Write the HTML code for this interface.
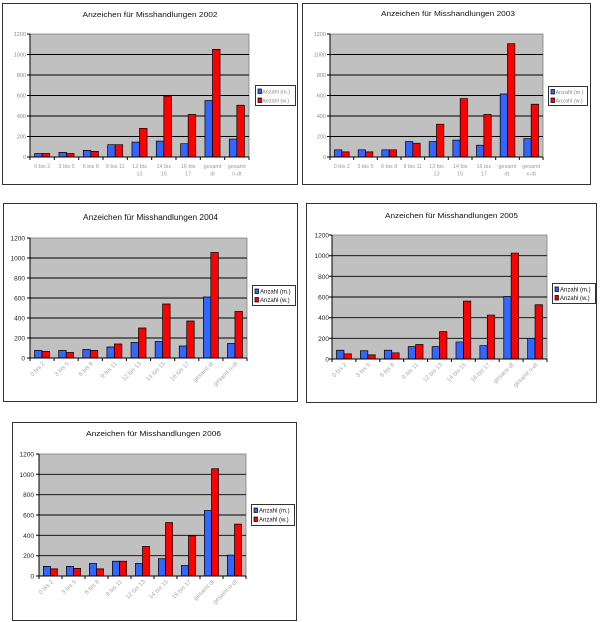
<!DOCTYPE html>
<html><head><meta charset="utf-8"><style>
html,body{margin:0;padding:0;background:#fff;}
svg{display:block;font-family:"Liberation Sans",Arial,sans-serif;}
.g{fill:#c0c0c0;stroke:#808080;stroke-width:0.8;}
.gl{stroke:#000;stroke-width:0.9;vector-effect:non-scaling-stroke;}
.b{fill:#3366ff;stroke:#000;stroke-width:0.7;vector-effect:non-scaling-stroke;}
.r{fill:#ff0000;stroke:#000;stroke-width:0.7;vector-effect:non-scaling-stroke;}
.ax{stroke:#000;stroke-width:1;fill:none;}
.fr{fill:#fff;stroke:#333;stroke-width:1;}
.yl1{font-size:5.5px;fill:#8a8a8a;text-anchor:end;}
.xl1{font-size:5.5px;fill:#9a9a9a;text-anchor:middle;}
.yl2{font-size:6.5px;fill:#222;text-anchor:end;}
.xl2{font-size:6px;fill:#a8a8a8;text-anchor:end;}
.lg{fill:#fff;stroke:#000;stroke-width:0.8;}
.lt1{font-size:5.5px;fill:#888;}
.lt2{font-size:6px;fill:#111;}
.t{font-size:7.5px;fill:#111;text-anchor:middle;}
</style></head><body>
<svg width="600" height="622" viewBox="0 0 600 622" xmlns="http://www.w3.org/2000/svg">

<!-- ===== Chart 1 : 2002 ===== -->
<rect class="fr" x="2.5" y="3.5" width="295" height="181"/>
<text class="t" x="150" y="17" textLength="135" lengthAdjust="spacingAndGlyphs">Anzeichen für Misshandlungen 2002</text>
<rect class="g" x="30" y="34" width="219" height="123"/>
<g transform="translate(30,157) scale(24.333,-0.1025)">
<line class="gl" x1="0" x2="9" y1="200" y2="200"/><line class="gl" x1="0" x2="9" y1="400" y2="400"/><line class="gl" x1="0" x2="9" y1="600" y2="600"/><line class="gl" x1="0" x2="9" y1="800" y2="800"/><line class="gl" x1="0" x2="9" y1="1000" y2="1000"/>
<rect class="b" x="0.19" y="0" width="0.31" height="35"/><rect class="r" x="0.5" y="0" width="0.31" height="35"/>
<rect class="b" x="1.19" y="0" width="0.31" height="45"/><rect class="r" x="1.5" y="0" width="0.31" height="35"/>
<rect class="b" x="2.19" y="0" width="0.31" height="65"/><rect class="r" x="2.5" y="0" width="0.31" height="55"/>
<rect class="b" x="3.19" y="0" width="0.31" height="120"/><rect class="r" x="3.5" y="0" width="0.31" height="120"/>
<rect class="b" x="4.19" y="0" width="0.31" height="145"/><rect class="r" x="4.5" y="0" width="0.31" height="280"/>
<rect class="b" x="5.19" y="0" width="0.31" height="155"/><rect class="r" x="5.5" y="0" width="0.31" height="595"/>
<rect class="b" x="6.19" y="0" width="0.31" height="130"/><rect class="r" x="6.5" y="0" width="0.31" height="415"/>
<rect class="b" x="7.19" y="0" width="0.31" height="550"/><rect class="r" x="7.5" y="0" width="0.31" height="1050"/>
<rect class="b" x="8.19" y="0" width="0.31" height="175"/><rect class="r" x="8.5" y="0" width="0.31" height="505"/>
</g>
<path class="ax" d="M30,34V157H249M27,34H30M27,54.5H30M27,75H30M27,95.5H30M27,116H30M27,136.5H30M27,157H30M30,157v3M54.3,157v3M78.7,157v3M103,157v3M127.3,157v3M151.7,157v3M176,157v3M200.3,157v3M224.7,157v3M249,157v3"/>
<text class="yl1" x="26" y="36">1200</text><text class="yl1" x="26" y="56.5">1000</text><text class="yl1" x="26" y="77">800</text><text class="yl1" x="26" y="97.5">600</text><text class="yl1" x="26" y="118">400</text><text class="yl1" x="26" y="138.5">200</text><text class="yl1" x="26" y="159">0</text>
<text class="xl1" x="42.2" y="168">0 bis 2</text><text class="xl1" x="66.5" y="168">3 bis 5</text><text class="xl1" x="90.8" y="168">6 bis 8</text><text class="xl1" x="115.2" y="168">9 bis 11</text>
<text class="xl1" x="139.5" y="168">12 bis</text><text class="xl1" x="139.5" y="175.5">13</text>
<text class="xl1" x="163.8" y="168">14 bis</text><text class="xl1" x="163.8" y="175.5">15</text>
<text class="xl1" x="188.2" y="168">16 bis</text><text class="xl1" x="188.2" y="175.5">17</text>
<text class="xl1" x="212.5" y="168">gesamt</text><text class="xl1" x="212.5" y="175.5">dt</text>
<text class="xl1" x="236.8" y="168">gesamt</text><text class="xl1" x="236.8" y="175.5">n-dt</text>
<rect class="lg" x="255.5" y="85.5" width="40" height="20"/>
<rect class="b" x="258" y="89" width="3.5" height="4.5"/><text class="lt1" x="262" y="93.5">Anzahl (m.)</text>
<rect class="r" x="258" y="98" width="3.5" height="4.5"/><text class="lt1" x="262" y="102.5">Anzahl (w.)</text>

<!-- ===== Chart 2 : 2003 ===== -->
<rect class="fr" x="302.5" y="3.5" width="288" height="181"/>
<text class="t" x="448" y="16" textLength="134" lengthAdjust="spacingAndGlyphs">Anzeichen für Misshandlungen 2003</text>
<rect class="g" x="330" y="34" width="213" height="123"/>
<g transform="translate(330,157) scale(23.667,-0.1025)">
<line class="gl" x1="0" x2="9" y1="200" y2="200"/><line class="gl" x1="0" x2="9" y1="400" y2="400"/><line class="gl" x1="0" x2="9" y1="600" y2="600"/><line class="gl" x1="0" x2="9" y1="800" y2="800"/><line class="gl" x1="0" x2="9" y1="1000" y2="1000"/>
<rect class="b" x="0.19" y="0" width="0.31" height="70"/><rect class="r" x="0.5" y="0" width="0.31" height="50"/>
<rect class="b" x="1.19" y="0" width="0.31" height="70"/><rect class="r" x="1.5" y="0" width="0.31" height="50"/>
<rect class="b" x="2.19" y="0" width="0.31" height="70"/><rect class="r" x="2.5" y="0" width="0.31" height="70"/>
<rect class="b" x="3.19" y="0" width="0.31" height="150"/><rect class="r" x="3.5" y="0" width="0.31" height="135"/>
<rect class="b" x="4.19" y="0" width="0.31" height="150"/><rect class="r" x="4.5" y="0" width="0.31" height="320"/>
<rect class="b" x="5.19" y="0" width="0.31" height="165"/><rect class="r" x="5.5" y="0" width="0.31" height="570"/>
<rect class="b" x="6.19" y="0" width="0.31" height="115"/><rect class="r" x="6.5" y="0" width="0.31" height="415"/>
<rect class="b" x="7.19" y="0" width="0.31" height="615"/><rect class="r" x="7.5" y="0" width="0.31" height="1105"/>
<rect class="b" x="8.19" y="0" width="0.31" height="180"/><rect class="r" x="8.5" y="0" width="0.31" height="515"/>
</g>
<path class="ax" d="M330,34V157H543M327,34H330M327,54.5H330M327,75H330M327,95.5H330M327,116H330M327,136.5H330M327,157H330M330,157v3M353.7,157v3M377.3,157v3M401,157v3M424.7,157v3M448.3,157v3M472,157v3M495.7,157v3M519.3,157v3M543,157v3"/>
<text class="yl1" x="326" y="36">1200</text><text class="yl1" x="326" y="56.5">1000</text><text class="yl1" x="326" y="77">800</text><text class="yl1" x="326" y="97.5">600</text><text class="yl1" x="326" y="118">400</text><text class="yl1" x="326" y="138.5">200</text><text class="yl1" x="326" y="159">0</text>
<text class="xl1" x="341.8" y="168">0 bis 2</text><text class="xl1" x="365.5" y="168">3 bis 5</text><text class="xl1" x="389.2" y="168">6 bis 8</text><text class="xl1" x="412.8" y="168">9 bis 11</text>
<text class="xl1" x="436.5" y="168">12 bis</text><text class="xl1" x="436.5" y="175.5">13</text>
<text class="xl1" x="460.2" y="168">14 bis</text><text class="xl1" x="460.2" y="175.5">15</text>
<text class="xl1" x="483.8" y="168">16 bis</text><text class="xl1" x="483.8" y="175.5">17</text>
<text class="xl1" x="507.5" y="168">gesamt</text><text class="xl1" x="507.5" y="175.5">dt.</text>
<text class="xl1" x="531.2" y="168">gesamt</text><text class="xl1" x="531.2" y="175.5">n-dt</text>
<rect class="lg" x="548.5" y="86.5" width="39" height="19"/>
<rect class="b" x="551" y="89.5" width="3.5" height="4.5"/><text class="lt1" x="555.5" y="94">Anzahl (m.)</text>
<rect class="r" x="551" y="98" width="3.5" height="4.5"/><text class="lt1" x="555.5" y="102.5">Anzahl (w.)</text>

<!-- ===== Chart 3 : 2004 ===== -->
<rect class="fr" x="3.5" y="203.5" width="294" height="198"/>
<text class="t" x="150.5" y="220" font-size="8" textLength="135" lengthAdjust="spacingAndGlyphs" style="font-size:8px">Anzeichen für Misshandlungen 2004</text>
<rect class="g" x="30" y="238" width="217" height="120"/>
<g transform="translate(30,358) scale(24.111,-0.1)">
<line class="gl" x1="0" x2="9" y1="200" y2="200"/><line class="gl" x1="0" x2="9" y1="400" y2="400"/><line class="gl" x1="0" x2="9" y1="600" y2="600"/><line class="gl" x1="0" x2="9" y1="800" y2="800"/><line class="gl" x1="0" x2="9" y1="1000" y2="1000"/>
<rect class="b" x="0.19" y="0" width="0.31" height="75"/><rect class="r" x="0.5" y="0" width="0.31" height="65"/>
<rect class="b" x="1.19" y="0" width="0.31" height="75"/><rect class="r" x="1.5" y="0" width="0.31" height="55"/>
<rect class="b" x="2.19" y="0" width="0.31" height="85"/><rect class="r" x="2.5" y="0" width="0.31" height="75"/>
<rect class="b" x="3.19" y="0" width="0.31" height="110"/><rect class="r" x="3.5" y="0" width="0.31" height="140"/>
<rect class="b" x="4.19" y="0" width="0.31" height="155"/><rect class="r" x="4.5" y="0" width="0.31" height="300"/>
<rect class="b" x="5.19" y="0" width="0.31" height="165"/><rect class="r" x="5.5" y="0" width="0.31" height="540"/>
<rect class="b" x="6.19" y="0" width="0.31" height="120"/><rect class="r" x="6.5" y="0" width="0.31" height="370"/>
<rect class="b" x="7.19" y="0" width="0.31" height="610"/><rect class="r" x="7.5" y="0" width="0.31" height="1055"/>
<rect class="b" x="8.19" y="0" width="0.31" height="145"/><rect class="r" x="8.5" y="0" width="0.31" height="465"/>
</g>
<path class="ax" d="M30,238V358H247M27,238H30M27,258H30M27,278H30M27,298H30M27,318H30M27,338H30M27,358H30M30,358v3M54.1,358v3M78.2,358v3M102.3,358v3M126.4,358v3M150.6,358v3M174.7,358v3M198.8,358v3M222.9,358v3M247,358v3"/>
<text class="yl2" x="25" y="240.5">1200</text><text class="yl2" x="25" y="260.5">1000</text><text class="yl2" x="25" y="280.5">800</text><text class="yl2" x="25" y="300.5">600</text><text class="yl2" x="25" y="320.5">400</text><text class="yl2" x="25" y="340.5">200</text><text class="yl2" x="25" y="360.5">0</text>
<text class="xl2" transform="translate(45,364) rotate(-45)">0 bis 2</text>
<text class="xl2" transform="translate(69.2,364) rotate(-45)">3 bis 5</text>
<text class="xl2" transform="translate(93.3,364) rotate(-45)">6 bis 8</text>
<text class="xl2" transform="translate(117.4,364) rotate(-45)">9 bis 11</text>
<text class="xl2" transform="translate(141.5,364) rotate(-45)">12 bis 13</text>
<text class="xl2" transform="translate(165.6,364) rotate(-45)">14 bis 15</text>
<text class="xl2" transform="translate(189.7,364) rotate(-45)">16 bis 17</text>
<text class="xl2" transform="translate(213.8,364) rotate(-45)">gesamt dt</text>
<text class="xl2" transform="translate(237.9,364) rotate(-45)">gesamt n-dt</text>
<rect class="lg" x="252.5" y="285.5" width="43" height="20"/>
<rect class="b" x="255" y="289" width="3.5" height="4.5"/><text class="lt2" x="260" y="293.5">Anzahl (m.)</text>
<rect class="r" x="255" y="297.5" width="3.5" height="4.5"/><text class="lt2" x="260" y="302">Anzahl (w.)</text>

<!-- ===== Chart 4 : 2005 ===== -->
<rect class="fr" x="306.5" y="203.5" width="290" height="199"/>
<text class="t" x="451.5" y="218" textLength="133" lengthAdjust="spacingAndGlyphs" style="font-size:7px">Anzeichen für Misshandlungen 2005</text>
<rect class="g" x="332" y="235" width="215" height="124"/>
<g transform="translate(332,359) scale(23.889,-0.10333)">
<line class="gl" x1="0" x2="9" y1="200" y2="200"/><line class="gl" x1="0" x2="9" y1="400" y2="400"/><line class="gl" x1="0" x2="9" y1="600" y2="600"/><line class="gl" x1="0" x2="9" y1="800" y2="800"/><line class="gl" x1="0" x2="9" y1="1000" y2="1000"/>
<rect class="b" x="0.19" y="0" width="0.31" height="85"/><rect class="r" x="0.5" y="0" width="0.31" height="50"/>
<rect class="b" x="1.19" y="0" width="0.31" height="80"/><rect class="r" x="1.5" y="0" width="0.31" height="40"/>
<rect class="b" x="2.19" y="0" width="0.31" height="85"/><rect class="r" x="2.5" y="0" width="0.31" height="60"/>
<rect class="b" x="3.19" y="0" width="0.31" height="120"/><rect class="r" x="3.5" y="0" width="0.31" height="140"/>
<rect class="b" x="4.19" y="0" width="0.31" height="120"/><rect class="r" x="4.5" y="0" width="0.31" height="265"/>
<rect class="b" x="5.19" y="0" width="0.31" height="165"/><rect class="r" x="5.5" y="0" width="0.31" height="560"/>
<rect class="b" x="6.19" y="0" width="0.31" height="130"/><rect class="r" x="6.5" y="0" width="0.31" height="425"/>
<rect class="b" x="7.19" y="0" width="0.31" height="605"/><rect class="r" x="7.5" y="0" width="0.31" height="1025"/>
<rect class="b" x="8.19" y="0" width="0.31" height="200"/><rect class="r" x="8.5" y="0" width="0.31" height="525"/>
</g>
<path class="ax" d="M332,235V359H547M329,235H332M329,255.7H332M329,276.3H332M329,297H332M329,317.7H332M329,338.3H332M329,359H332M332,359v3M355.9,359v3M379.8,359v3M403.7,359v3M427.6,359v3M451.4,359v3M475.3,359v3M499.2,359v3M523.1,359v3M547,359v3"/>
<text class="yl2" x="329" y="237.5">1200</text><text class="yl2" x="329" y="258.2">1000</text><text class="yl2" x="329" y="278.8">800</text><text class="yl2" x="329" y="299.5">600</text><text class="yl2" x="329" y="320.2">400</text><text class="yl2" x="329" y="340.8">200</text><text class="yl2" x="329" y="361.5">0</text>
<text class="xl2" transform="translate(346.9,365) rotate(-45)">0 bis 2</text>
<text class="xl2" transform="translate(370.8,365) rotate(-45)">3 bis 5</text>
<text class="xl2" transform="translate(394.7,365) rotate(-45)">6 bis 8</text>
<text class="xl2" transform="translate(418.6,365) rotate(-45)">9 bis 11</text>
<text class="xl2" transform="translate(442.5,365) rotate(-45)">12 bis 13</text>
<text class="xl2" transform="translate(466.4,365) rotate(-45)">14 bis 15</text>
<text class="xl2" transform="translate(490.3,365) rotate(-45)">16 bis 17</text>
<text class="xl2" transform="translate(514.2,365) rotate(-45)">gesamt dt</text>
<text class="xl2" transform="translate(538.1,365) rotate(-45)">gesamt n-dt</text>
<rect class="lg" x="552.5" y="283.5" width="43" height="20"/>
<rect class="b" x="555" y="287" width="3.5" height="4.5"/><text class="lt2" x="560" y="291.5">Anzahl (m.)</text>
<rect class="r" x="555" y="295.5" width="3.5" height="4.5"/><text class="lt2" x="560" y="300">Anzahl (w.)</text>

<!-- ===== Chart 5 : 2006 ===== -->
<rect class="fr" x="12.5" y="422.5" width="284" height="198"/>
<text class="t" x="153.5" y="436" textLength="135" lengthAdjust="spacingAndGlyphs" style="font-size:7px">Anzeichen für Misshandlungen 2006</text>
<rect class="g" x="39" y="454" width="207" height="122"/>
<g transform="translate(39,576) scale(23,-0.10167)">
<line class="gl" x1="0" x2="9" y1="200" y2="200"/><line class="gl" x1="0" x2="9" y1="400" y2="400"/><line class="gl" x1="0" x2="9" y1="600" y2="600"/><line class="gl" x1="0" x2="9" y1="800" y2="800"/><line class="gl" x1="0" x2="9" y1="1000" y2="1000"/>
<rect class="b" x="0.19" y="0" width="0.31" height="95"/><rect class="r" x="0.5" y="0" width="0.31" height="70"/>
<rect class="b" x="1.19" y="0" width="0.31" height="95"/><rect class="r" x="1.5" y="0" width="0.31" height="75"/>
<rect class="b" x="2.19" y="0" width="0.31" height="125"/><rect class="r" x="2.5" y="0" width="0.31" height="70"/>
<rect class="b" x="3.19" y="0" width="0.31" height="145"/><rect class="r" x="3.5" y="0" width="0.31" height="145"/>
<rect class="b" x="4.19" y="0" width="0.31" height="125"/><rect class="r" x="4.5" y="0" width="0.31" height="290"/>
<rect class="b" x="5.19" y="0" width="0.31" height="170"/><rect class="r" x="5.5" y="0" width="0.31" height="525"/>
<rect class="b" x="6.19" y="0" width="0.31" height="105"/><rect class="r" x="6.5" y="0" width="0.31" height="395"/>
<rect class="b" x="7.19" y="0" width="0.31" height="645"/><rect class="r" x="7.5" y="0" width="0.31" height="1055"/>
<rect class="b" x="8.19" y="0" width="0.31" height="205"/><rect class="r" x="8.5" y="0" width="0.31" height="510"/>
</g>
<path class="ax" d="M39,454V576H246M36,454H39M36,474.3H39M36,494.7H39M36,515H39M36,535.3H39M36,555.7H39M36,576H39M39,576v3M62,576v3M85,576v3M108,576v3M131,576v3M154,576v3M177,576v3M200,576v3M223,576v3M246,576v3"/>
<text class="yl2" x="34" y="456.5">1200</text><text class="yl2" x="34" y="476.8">1000</text><text class="yl2" x="34" y="497.2">800</text><text class="yl2" x="34" y="517.5">600</text><text class="yl2" x="34" y="537.8">400</text><text class="yl2" x="34" y="558.2">200</text><text class="yl2" x="34" y="578.5">0</text>
<text class="xl2" transform="translate(53.5,582) rotate(-45)">0 bis 2</text>
<text class="xl2" transform="translate(76.5,582) rotate(-45)">3 bis 5</text>
<text class="xl2" transform="translate(99.5,582) rotate(-45)">6 bis 8</text>
<text class="xl2" transform="translate(122.5,582) rotate(-45)">9 bis 11</text>
<text class="xl2" transform="translate(145.5,582) rotate(-45)">12 bis 13</text>
<text class="xl2" transform="translate(168.5,582) rotate(-45)">14 bis 15</text>
<text class="xl2" transform="translate(191.5,582) rotate(-45)">16 bis 17</text>
<text class="xl2" transform="translate(214.5,582) rotate(-45)">gesamt dt</text>
<text class="xl2" transform="translate(237.5,582) rotate(-45)">gesamt n-dt</text>
<rect class="lg" x="251.5" y="504.5" width="43" height="21"/>
<rect class="b" x="254" y="508" width="3.5" height="4.5"/><text class="lt2" x="259" y="512.5">Anzahl (m.)</text>
<rect class="r" x="254" y="517" width="3.5" height="4.5"/><text class="lt2" x="259" y="521.5">Anzahl (w.)</text>

</svg>
</body></html>
